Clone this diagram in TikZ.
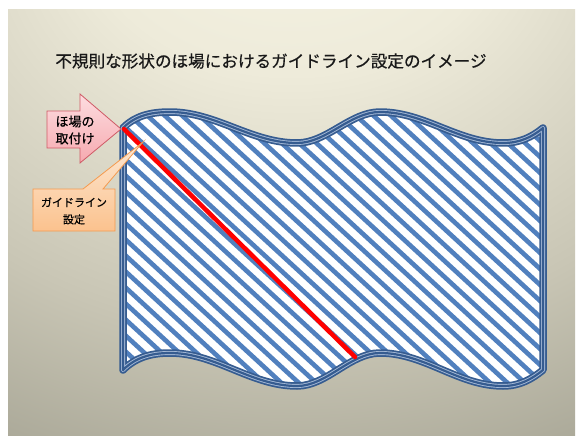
\documentclass[tikz,border=0pt]{standalone}
\usepackage{fontspec}
\newfontfamily\jp[FakeBold=0.5]{Noto Sans CJK JP}
\definecolor{bgA}{HTML}{F8F6E6}
\definecolor{bgB}{HTML}{EEEBDA}
\definecolor{bgC}{HTML}{C9C6B5}
\definecolor{bgD}{HTML}{A9A797}
\definecolor{bgE}{HTML}{9C9989}
\definecolor{bgF}{HTML}{8E8B7B}
\definecolor{outblue}{HTML}{365C90}
\definecolor{outlight}{HTML}{A3B8D6}
\definecolor{stripeblue}{HTML}{5180BE}
\definecolor{arrowtop}{HTML}{FDDDE0}
\definecolor{arrowbot}{HTML}{F6A9AF}
\definecolor{arrowborder}{HTML}{CF5B66}
\definecolor{calltop}{HTML}{FDE8D3}
\definecolor{callbot}{HTML}{FBC28E}
\definecolor{callborder}{HTML}{F59A4E}
\pgfdeclareradialshading{bgshade}{\pgfpoint{0bp}{42bp}}{color(0bp)=(bgA); color(18bp)=(bgB); color(40bp)=(bgC); color(55bp)=(bgD); color(90bp)=(bgE); color(115bp)=(bgF)}
\def\flagpath{(123,128) .. controls (135,116) and (150,112) .. (170,112)
  .. controls (216,112) and (251,143) .. (297,143)
  .. controls (327,143) and (350,112) .. (380,112)
  .. controls (425,112) and (458,143) .. (503,143)
  .. controls (520,143) and (532,137) .. (543,128)
  -- (543,370)
  .. controls (532,379) and (520,386) .. (503,386)
  .. controls (458,386) and (425,353) .. (380,353)
  .. controls (350,353) and (327,386) .. (297,386)
  .. controls (251,386) and (216,353) .. (170,353)
  .. controls (150,353) and (135,358) .. (123,370)
  -- cycle}
\begin{document}
\begin{tikzpicture}[x=1pt,y=-1pt,
  stripe/.style={draw=stripeblue,line width=4.6pt},
  outline/.style={line join=round,line cap=round},
  lbl/.style={align=center,inner sep=0pt,text=black}]
\fill[white] (0,0) rectangle (576,436);
\useasboundingbox (0,0) rectangle (576,436);
\shade[shading=bgshade] (8,10) rectangle (575,436);
% title
\node[lbl,font=\jp\fontsize{16.6}{20}\selectfont,text=black!90] (title) at (271,61) {不規則な形状のほ場におけるガイドライン設定のイメージ};
% flag
\begin{scope}
  \clip \flagpath;
  \fill[white] (100,90) rectangle (560,400);
  \foreach \c in {-420,-404,...,320}
    \draw[stripe] (100,\c+92) -- (560,\c+515.2);
\end{scope}
\draw[outline,line width=7.5pt,draw=outblue] \flagpath;
\draw[outline,line width=4pt,draw=outlight] \flagpath;
\draw[outline,line width=2.2pt,draw=outblue] \flagpath;
% guideline
\coordinate (gs) at (124,129);
\coordinate (ge) at (355,357);
\draw[red,line width=4.5pt,line cap=round] (gs) -- (ge);
% block arrow
\draw[draw=arrowborder,line width=0.8pt,line join=miter,top color=arrowtop,bottom color=arrowbot]
  (47,111) -- (80,111) -- (80,94) -- (121,129) -- (80,163) -- (80,148) -- (47,148) -- cycle;
\node[lbl,font=\jp\fontsize{13}{17}\selectfont] (arrowtext) at (75,130) {ほ場の\\取付け};
% callout
\draw[draw=callborder,line width=0.8pt,top color=calltop,bottom color=callbot]
  (33,189) -- (83,189) -- (143,142) -- (103,189) -- (115,189) -- (115,231) -- (33,231) -- cycle;
\node[lbl,font=\jp\fontsize{11}{17}\selectfont] (calltext) at (74,211) {ガイドライン\\設定};
\end{tikzpicture}
\end{document}
